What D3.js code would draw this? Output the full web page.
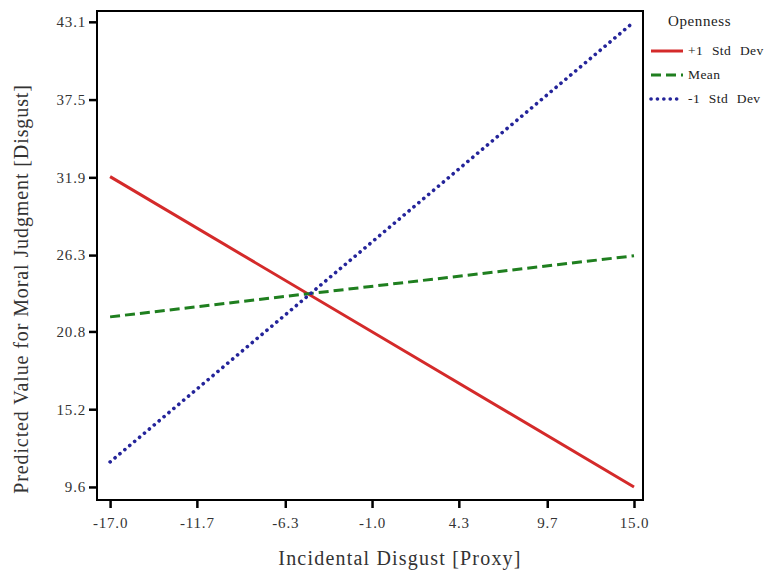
<!DOCTYPE html>
<html>
<head>
<meta charset="utf-8">
<script src="https://cdn.jsdelivr.net/npm/d3@7"></script>
<style>
  body { margin: 0; background: #fff; overflow: hidden; }
  text { font-family: "Liberation Serif", "Times New Roman", serif; }
</style>
</head>
<body>
<div class="chart"></div>
<script>
var xEnds = [-17.0, 15.0];
var seriesNames = ["+1 Std Dev", "Mean", "-1 Std Dev"];
var plusOne = [31.95, 9.6];
var meanVals = [21.85, 26.25];
var minusOne = [11.4, 43.1];
var xTicks = [-17.0, -11.7, -6.3, -1.0, 4.3, 9.7, 15.0];
var yTicks = [9.6, 15.2, 20.8, 26.3, 31.9, 37.5, 43.1];

var width = 764;
var height = 571;
var plotLeft = 97, plotRight = 643, plotTop = 11, plotBottom = 500;

var xScale = d3.scaleLinear().domain([-17.8, 15.55]).range([plotLeft, plotRight]);
var yScale = d3.scaleLinear().domain([8.66, 43.88]).range([plotBottom, plotTop]);

var fmt = function(d) { return d.toFixed(1); };

var svg = d3
  .select(".chart")
  .append("svg")
  .attr("width", width)
  .attr("height", height);

// frame
svg
  .append("rect")
  .attr("x", plotLeft)
  .attr("y", plotTop)
  .attr("width", plotRight - plotLeft)
  .attr("height", plotBottom - plotTop)
  .attr("fill", "none")
  .attr("stroke", "#000")
  .attr("stroke-width", 2);

var xAxis = svg
  .append("g")
  .attr("transform", "translate(0," + plotBottom + ")")
  .call(d3.axisBottom(xScale).tickValues(xTicks).tickFormat(fmt).tickSize(8).tickSizeOuter(0));
var yAxis = svg
  .append("g")
  .attr("transform", "translate(" + plotLeft + ",0)")
  .call(d3.axisLeft(yScale).tickValues(yTicks).tickFormat(fmt).tickSize(8).tickSizeOuter(0));

[xAxis, yAxis].forEach(function(ax) {
  ax.select(".domain").remove();
  ax.selectAll(".tick line").attr("stroke", "#000").attr("stroke-width", 2.5);
  ax.selectAll(".tick text")
    .attr("fill", "#333")
    .style("font-size", "15px")
    .style("letter-spacing", "0.8px")
    .style("font-family", "'Liberation Serif', serif");
});
xAxis.selectAll(".tick text").attr("y", 13).attr("dy", "1em");
yAxis.selectAll(".tick text").attr("x", -11);

var series = [
  { name: seriesNames[0], values: plusOne, color: "#d42a2a", dash: null, cap: "butt" },
  { name: seriesNames[1], values: meanVals, color: "#1f7f1f", dash: "10,5", cap: "butt" },
  { name: seriesNames[2], values: minusOne, color: "#24249a", dash: "0.1,6.3", cap: "round" }
];

var line = d3
  .line()
  .x(function(d) { return xScale(d[0]); })
  .y(function(d) { return yScale(d[1]); });

svg
  .selectAll("path.series")
  .data(series)
  .enter()
  .append("path")
  .attr("class", "series")
  .attr("fill", "none")
  .attr("stroke", function(d) { return d.color; })
  .attr("stroke-width", function(d) { return d.cap === "round" ? 3.6 : 3; })
  .attr("stroke-linecap", function(d) { return d.cap; })
  .attr("stroke-dasharray", function(d) { return d.dash; })
  .attr("d", function(d) {
    return line(xEnds.map(function(x, i) { return [x, d.values[i]]; }));
  });

// axis titles
svg
  .append("text")
  .attr("x", 400)
  .attr("y", 565)
  .attr("text-anchor", "middle")
  .attr("fill", "#333")
  .style("font-size", "20px")
  .style("letter-spacing", "1.2px")
  .text("Incidental Disgust [Proxy]");

svg
  .append("text")
  .attr("transform", "translate(28,289) rotate(-90)")
  .attr("text-anchor", "middle")
  .attr("fill", "#333")
  .style("font-size", "20px")
  .style("letter-spacing", "0.9px")
  .text("Predicted Value for Moral Judgment [Disgust]");

// legend
var legend = svg.append("g").attr("transform", "translate(650,0)");
legend
  .append("text")
  .attr("x", 18)
  .attr("y", 26)
  .attr("fill", "#222")
  .style("font-size", "15px")
  .style("letter-spacing", "0.6px")
  .text("Openness");

var item = legend
  .selectAll("g.item")
  .data(series)
  .enter()
  .append("g")
  .attr("class", "item")
  .attr("transform", function(d, i) { return "translate(0," + (51 + i * 24) + ")"; });

item
  .append("line")
  .attr("x1", 1)
  .attr("x2", 33)
  .attr("stroke", function(d) { return d.color; })
  .attr("stroke-width", function(d) { return d.cap === "round" ? 3.6 : 3; })
  .attr("stroke-linecap", function(d) { return d.cap; })
  .attr("stroke-dasharray", function(d) { return d.dash; });

item
  .append("text")
  .attr("x", 38)
  .attr("y", 4)
  .attr("fill", "#222")
  .style("font-size", "13.5px")
  .style("letter-spacing", "0.4px")
  .style("word-spacing", "5px")
  .text(function(d) { return d.name; });
</script>
</body>
</html>
